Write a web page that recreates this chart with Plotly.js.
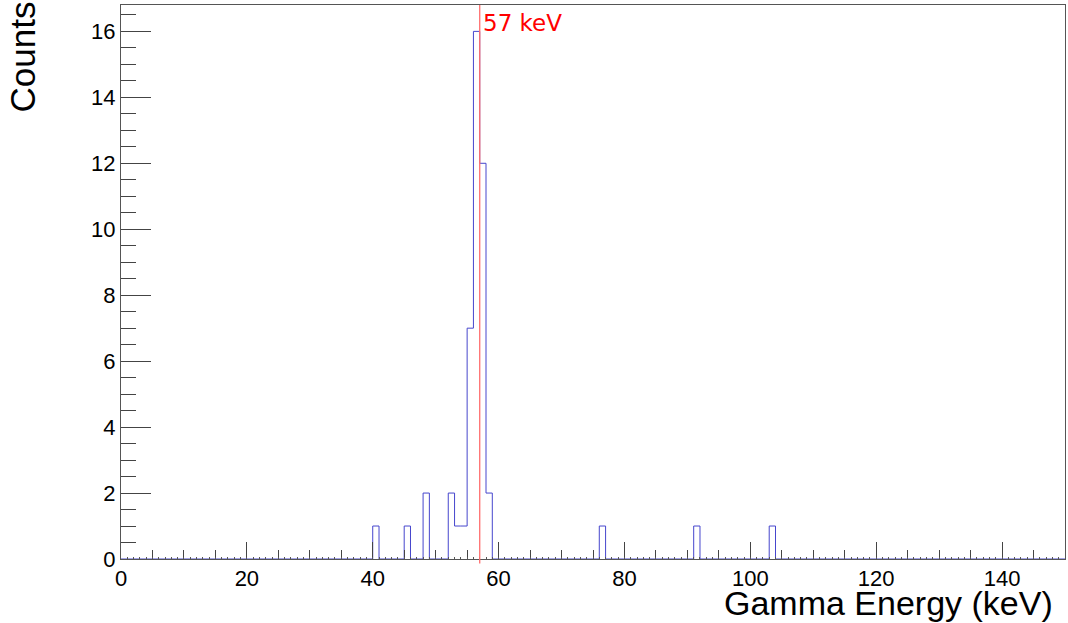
<!DOCTYPE html>
<html>
<head>
<meta charset="utf-8">
<script src="https://cdn.plot.ly/plotly-3.0.1.min.js"></script>
<style>html,body{margin:0;padding:0;background:#fff;}#chart{width:1068px;height:623px;}</style>
</head>
<body>
<div id="chart"></div>
<script>
// Histogram: 150 bins of 1 keV from 0 to 150 keV; only non-empty bins listed
const binLowEdges = [40, 45, 48, 52, 53, 54, 55, 56, 57, 58, 76, 91, 103];
const binCounts   = [1, 1, 2, 2, 1, 1, 7, 16, 12, 2, 1, 1, 1];
const nBins = 150;
const xMin = 0, xMax = 150;
const markerEnergy = 57;
const markerLabel = "57 keV";
const xTitle = "Gamma Energy (keV)";
const yTitle = "Counts";

const binWidth = (xMax - xMin) / nBins;
const contents = new Array(nBins).fill(0);
binLowEdges.forEach((e, i) => { contents[Math.round((e - xMin) / binWidth)] = binCounts[i]; });
const edges = [];
const ys = [];
for (let i = 0; i < nBins; i++) { edges.push(xMin + i * binWidth); ys.push(contents[i]); }
edges.push(xMax); ys.push(contents[nBins - 1]);

const trace = {
  x: edges, y: ys, type: 'scatter', mode: 'lines',
  line: {shape: 'hv', color: 'rgb(70,70,205)', width: 1},
  hoverinfo: 'skip', showlegend: false
};
const dummy = {x: [xMin, xMax], y: [0, 0], xaxis: 'x2', yaxis: 'y', mode: 'lines',
  line: {width: 0, color: 'rgba(0,0,0,0)'}, showlegend: false, hoverinfo: 'skip'};

const font = 'Liberation Sans, Arial, Helvetica, sans-serif';
const layout = {
  width: 1068, height: 623,
  margin: {l: 121, r: 3, t: 5, b: 64},
  paper_bgcolor: '#fff', plot_bgcolor: '#fff',
  font: {family: font, color: '#000'},
  xaxis: {
    range: [xMin, xMax], dtick: 20, tick0: 0, ticks: 'inside', ticklen: 17, tickwidth: 1, tickcolor: '#444',
    minor: {dtick: 5, tick0: 0, ticks: 'inside', ticklen: 9, tickwidth: 1, tickcolor: '#444'},
    showgrid: false, zeroline: false, showline: true, linecolor: '#555', linewidth: 1, mirror: true,
    tickfont: {size: 22, family: font, color: '#000'}
  },
  xaxis2: {
    range: [xMin, xMax], overlaying: 'x', dtick: 1, tick0: 0, ticks: 'inside', ticklen: 2, tickwidth: 1,
    tickcolor: '#555', showticklabels: false, showgrid: false, zeroline: false, showline: false, side: 'bottom', anchor: 'y'
  },
  yaxis: {
    range: [0, 16.8], dtick: 2, tick0: 0, ticks: 'inside', ticklen: 30, tickwidth: 1, tickcolor: '#444',
    minor: {dtick: 0.5, tick0: 0, ticks: 'inside', ticklen: 15, tickwidth: 1, tickcolor: '#444'},
    showgrid: false, zeroline: false, showline: true, linecolor: '#555', linewidth: 1, mirror: true,
    tickfont: {size: 22, family: font, color: '#000'}
  },
  shapes: [{
    type: 'line', xref: 'x', yref: 'paper', x0: markerEnergy, x1: markerEnergy, y0: -0.008, y1: 1,
    line: {color: 'rgb(255,110,110)', width: 1.3}
  }],
  annotations: [
    {text: markerLabel, xref: 'x', yref: 'paper', x: markerEnergy, y: 1, xanchor: 'left', yanchor: 'top',
     xshift: 1, yshift: -3, showarrow: false, font: {size: 23, color: '#ff0000', family: 'DejaVu Sans, sans-serif'}},
    {text: xTitle, xref: 'paper', yref: 'paper', x: 1, y: 0, xanchor: 'right', yanchor: 'top',
     xshift: -10, yshift: -23, showarrow: false, font: {size: 34, color: '#000', family: font}},
    {text: yTitle, xref: 'paper', yref: 'paper', x: 0, y: 1, xanchor: 'center', yanchor: 'top',
     xshift: -99, yshift: 5, textangle: -90, showarrow: false, font: {size: 35, color: '#000', family: font}}
  ]
};
Plotly.newPlot('chart', [trace, dummy], layout, {staticPlot: true, displayModeBar: false});
</script>
</body>
</html>
